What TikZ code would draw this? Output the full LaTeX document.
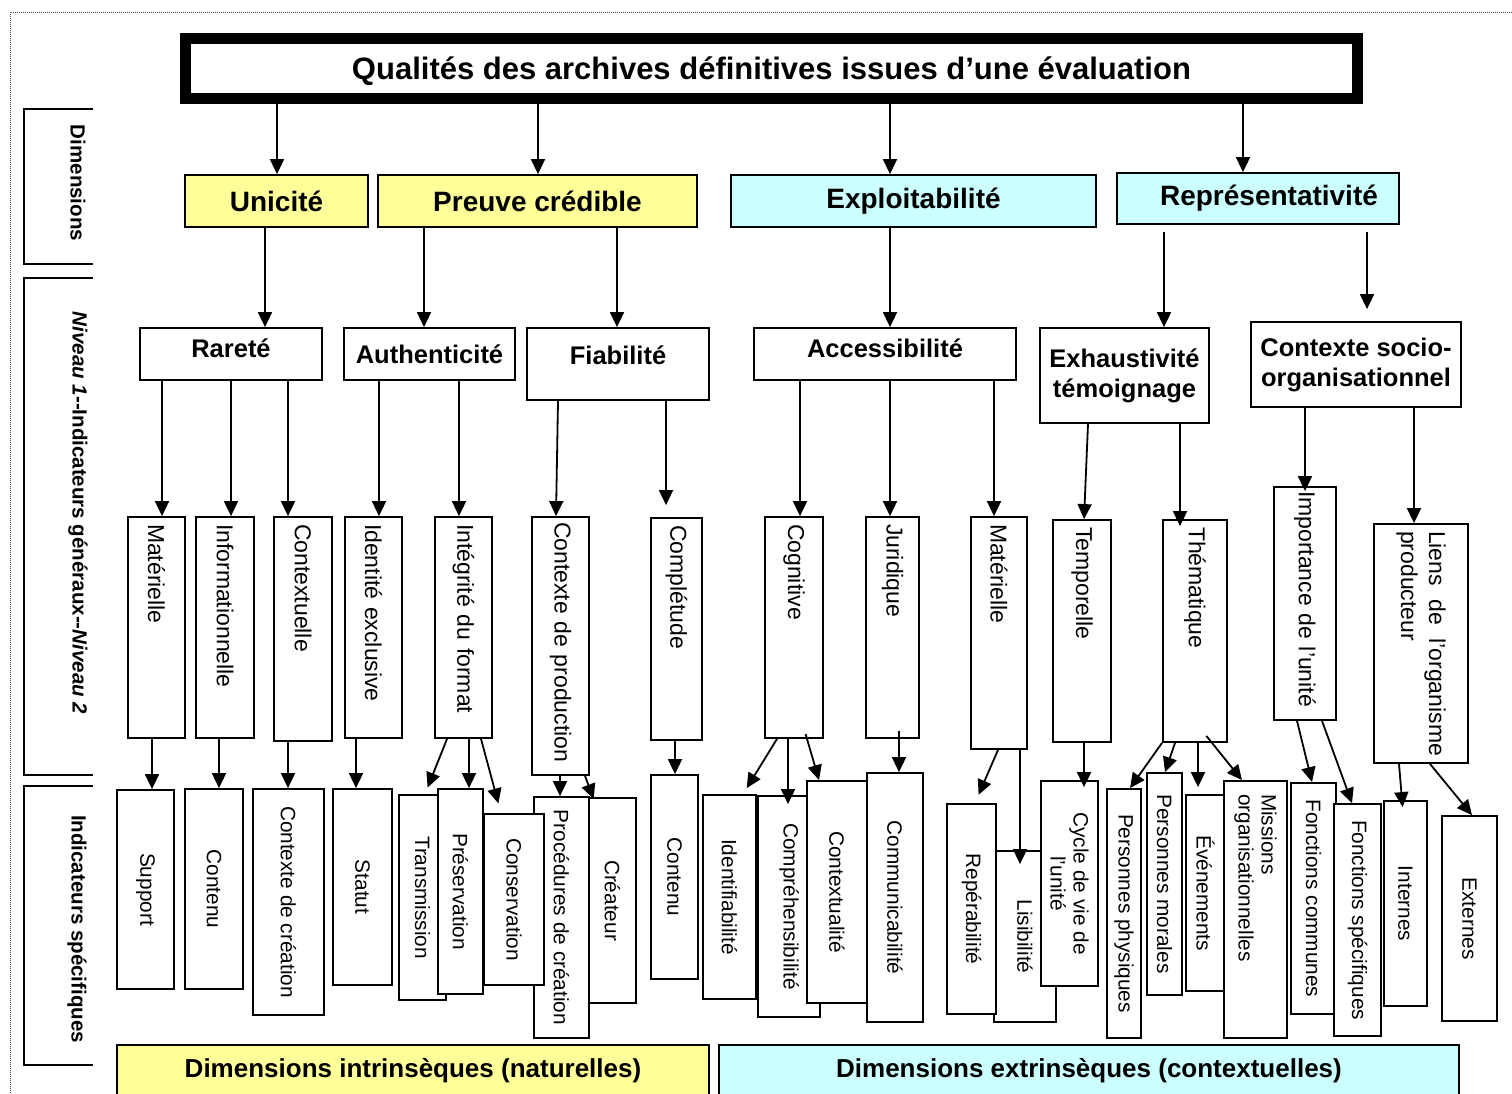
\documentclass[tikz,border=0pt]{standalone}
\usepackage{fontspec}
\setmainfont{Liberation Sans}
\usetikzlibrary{arrows.meta}

\definecolor{dimyellow}{HTML}{FFFF99}
\definecolor{dimcyan}{HTML}{CCFFFF}

\tikzset{
  box/.style={draw=black, fill=white, line width=1.8pt, inner sep=0pt},
  titlebox/.style={draw=black, line width=11pt, fill=white, minimum width=1172pt, minimum height=60pt,
    font=\fontsize{31}{36}\selectfont\bfseries},
  dimbox/.style={box, font=\fontsize{28}{32}\selectfont\bfseries},
  gen/.style={box, align=center, font=\fontsize{25.5}{30}\selectfont\bfseries},
  vtwo/.style={box, rotate=-90, align=left, inner xsep=7pt, font=\fontsize{23}{28}\selectfont},
  vthree/.style={box, rotate=-90, align=center, inner xsep=4pt, font=\fontsize{20.8}{23}\selectfont},
  side/.style={rotate=-90, inner sep=0pt, font=\fontsize{20.5}{24}\selectfont\bfseries},
  bracket/.style={line width=1.8pt},
  arr/.style={line width=1.8pt, -{Triangle[length=15pt,width=14pt]}},
  bar/.style={box, font=\fontsize{26}{30}\selectfont\bfseries, text height=19pt, text depth=9.5pt},
}

\begin{document}
\begin{tikzpicture}[x=1pt, y=-1pt]
\useasboundingbox (0,0) rectangle (1512,1093);

% dotted page frame
\draw[densely dotted, line width=1pt, black!70] (10,1093) -- (10,12) -- (1512,12);

% side brackets and their labels
\draw[bracket] (93,109) -- (24,109) -- (24,264) -- (93,264);
\node[side] (sdim) at (78,183) {Dimensions};
\draw[bracket] (93,278) -- (24,278) -- (24,775) -- (93,775);
\node[side] (sniv) at (78,513) {\textit{Niveau 1}-{}-Indicateurs généraux-{}-\textit{Niveau 2}};
\draw[bracket] (93,786) -- (24,786) -- (24,1065) -- (93,1065);
\node[side] (sind) at (77,929) {Indicateurs spécifiques};

% title
\node[titlebox, text height=22pt, text depth=0pt] (ttl) at (771.5,68.5) {Qualités des archives définitives issues d’une évaluation};

% dimensions
\node[dimbox, fill=dimyellow, minimum width=183pt, minimum height=52pt] (uni) at (276.5,201) {Unicité};
\node[dimbox, fill=dimyellow, minimum width=319pt, minimum height=52pt] (pre) at (537.5,201) {Preuve crédible};
\node[dimbox, fill=dimcyan, minimum width=365pt, minimum height=52pt] (expl) at (913.5,201) {Exploitabilité};
\node[dimbox, fill=dimcyan, minimum width=282pt, minimum height=51pt] (rep) at (1258,198.5) {\hspace*{22pt}Représentativité};

% general indicators, level 1
\node[gen, minimum width=182pt, minimum height=52pt, text depth=11pt] (rar) at (231,354) {Rareté};
\node[gen, minimum width=171pt, minimum height=52pt] (aut) at (429.5,354) {Authenticité};
\node[gen, minimum width=182pt, minimum height=72pt, text depth=17pt] (fia) at (618,364) {Fiabilité};
\node[gen, minimum width=262pt, minimum height=52pt, text depth=11pt] (acc) at (885,354) {Accessibilité};
\node[gen, minimum width=169pt, minimum height=95pt] (exh) at (1124.5,375.5) {Exhaustivité\\témoignage};
\node[gen, minimum width=210pt, minimum height=85pt] (ctx) at (1356,364.5) {Contexte socio-\\organisationnel};

% general indicators, level 2
\node[vtwo, minimum width=221pt, minimum height=57pt, text width=207pt] (mat1) at (156.5,627.5) {Matérielle};
\node[vtwo, minimum width=221pt, minimum height=58pt, text width=207pt] (inf) at (225,627.5) {Informationnelle};
\node[vtwo, minimum width=224pt, minimum height=58pt, text width=210pt] (ctxl) at (303,629) {Contextuelle};
\node[vtwo, minimum width=221pt, minimum height=57pt, text width=207pt] (ide) at (373.5,627.5) {Identité exclusive};
\node[vtwo, minimum width=221pt, minimum height=57pt, text width=207pt] (intg) at (463.5,627.5) {Intégrité du format};
\node[vtwo, minimum width=258pt, minimum height=57pt, inner xsep=5pt, text width=248pt] (cpr) at (560.5,646) {Contexte de production};
\node[vtwo, minimum width=222pt, minimum height=51pt, text width=208pt] (cmp) at (676.5,629) {Complétude};
\node[vtwo, minimum width=221pt, minimum height=58pt, text width=207pt] (cog) at (794,627.5) {Cognitive};
\node[vtwo, minimum width=221pt, minimum height=53pt, text width=207pt] (jur) at (892.5,627.5) {Juridique};
\node[vtwo, minimum width=232pt, minimum height=56pt, text width=218pt] (mat2) at (999,633) {Matérielle};
\node[vtwo, minimum width=222pt, minimum height=58pt, text width=208pt] (tmp) at (1082,631) {Temporelle};
\node[vtwo, minimum width=222pt, minimum height=64pt, text width=208pt] (thm) at (1195,631) {Thématique};
\node[vtwo, minimum width=233pt, minimum height=62pt, inner xsep=4pt, text width=225pt] (imp) at (1305,603.5) {Importance de l’unité};
\node[vtwo, minimum width=239pt, minimum height=94pt, text width=225pt] (lie) at (1421,643.5)
  {\makebox[225pt][s]{Liens\hfill de\hfill l’organisme}\\producteur};

% specific indicators
\node[vthree, minimum width=199pt, minimum height=57pt] (sup) at (145.5,889.5) {Support};
\node[vthree, minimum width=200pt, minimum height=58pt] (con1) at (214,889) {Contenu};
\node[vthree, minimum width=226pt, minimum height=71pt] (cdc) at (288.5,902) {Contexte de création};
\node[vthree, minimum width=196pt, minimum height=59pt] (sta) at (362.5,887) {Statut};
\node[vthree, minimum width=205pt, minimum height=47pt] (tra) at (422.5,897.5) {Transmission};
\node[vthree, minimum width=205pt, minimum height=45pt] (pres) at (460.5,891.5) {Préservation};
\node[vthree, minimum width=241pt, minimum height=55pt] (pro) at (561.5,917.5) {Procédures de création};
\node[vthree, minimum width=171pt, minimum height=60pt] (cons) at (514,899.5) {Conservation};
\node[vthree, minimum width=205pt, minimum height=47pt] (cre) at (612.5,900.5) {Créateur};
\node[vthree, minimum width=204pt, minimum height=47pt] (con2) at (674.5,877) {Contenu};
\node[vthree, minimum width=204pt, minimum height=53pt] (idf) at (729.5,897) {Identifiabilité};
\node[vthree, minimum width=221pt, minimum height=62pt] (cph) at (789,906.5) {Compréhensibilité};
\node[vthree, minimum width=222pt, minimum height=60pt] (ctxt) at (837,892) {Contextualité};
\node[vthree, minimum width=249pt, minimum height=56pt] (com) at (895,897.5) {Communicabilité};
\node[vthree, minimum width=171pt, minimum height=62pt] (lis) at (1025,936.5) {Lisibilité};
\node[vthree, minimum width=210pt, minimum height=49pt] (rep2) at (971.5,909) {Repérabilité};
\node[vthree, minimum width=205pt, minimum height=57pt] (cyc) at (1069.5,883.5) {Cycle de vie de\\l’unité};
\node[vthree, minimum width=249pt, minimum height=34pt] (pph) at (1124,913.5) {Personnes physiques};
\node[vthree, minimum width=222pt, minimum height=35pt] (pmo) at (1164.5,884) {Personnes morales};
\node[vthree, minimum width=196pt, minimum height=39pt] (eve) at (1205.5,893) {Événements};
\node[vthree, minimum width=257pt, minimum height=63pt, align=left, inner xsep=13pt, text width=231pt] (mis) at (1255.5,909.5) {Missions\\organisationnelles};
\node[vthree, minimum width=231pt, minimum height=45pt] (fco) at (1313.5,898.5) {Fonctions communes};
\node[vthree, minimum width=232pt, minimum height=47pt] (fsp) at (1357.5,920) {Fonctions spécifiques};
\node[vthree, minimum width=205pt, minimum height=43pt] (inte) at (1405.5,903.5) {Internes};
\node[vthree, minimum width=205pt, minimum height=55pt] (ext) at (1469.5,918.5) {Externes};

% bottom bars
\node[bar, fill=dimyellow, minimum width=592pt, minimum height=55pt] (intr) at (413,1072.5) {Dimensions intrinsèques (naturelles)};
\node[bar, fill=dimcyan, minimum width=740pt, minimum height=55pt] (extr) at (1089,1072.5) {Dimensions extrinsèques (contextuelles)};

% title to dimensions
\draw[arr] (277,0 |- ttl.south) -- (277,0 |- uni.north);
\draw[arr] (538,0 |- ttl.south) -- (538,0 |- pre.north);
\draw[arr] (890,0 |- ttl.south) -- (890,0 |- expl.north);
\draw[arr] (1243,0 |- ttl.south) -- (1243,0 |- rep.north);

% dimensions to level 1
\draw[arr] (265,0 |- uni.south) -- (265,0 |- rar.north);
\draw[arr] (424,0 |- pre.south) -- (424,0 |- aut.north);
\draw[arr] (617,0 |- pre.south) -- (617,0 |- fia.north);
\draw[arr] (890,0 |- expl.south) -- (890,0 |- acc.north);
\draw[arr, shorten <=7pt] (1164,0 |- rep.south) -- (1164,0 |- exh.north);
\draw[arr, shorten <=7pt, shorten >=12pt] (1367,0 |- rep.south) -- (1367,0 |- ctx.north);

% level 1 to level 2
\draw[arr] (162,0 |- rar.south) -- (162,0 |- mat1.west);
\draw[arr] (231,0 |- rar.south) -- (231,0 |- inf.west);
\draw[arr] (288,0 |- rar.south) -- (288,0 |- ctxl.west);
\draw[arr] (379,0 |- aut.south) -- (379,0 |- ide.west);
\draw[arr] (459,0 |- aut.south) -- (459,0 |- intg.west);
\draw[arr] (558,0 |- fia.south) -- (556,0 |- cpr.west);
\draw[arr, shorten >=12pt] (666,0 |- fia.south) -- (666,0 |- cmp.west);
\draw[arr] (800,0 |- acc.south) -- (800,0 |- cog.west);
\draw[arr] (890,0 |- acc.south) -- (890,0 |- jur.west);
\draw[arr] (994,0 |- acc.south) -- (994,0 |- mat2.west);
\draw[arr] (1088,0 |- exh.south) -- (1084,0 |- tmp.west);
\draw[arr, shorten >=-7pt] (1180,0 |- exh.south) -- (1180,0 |- thm.west);
\draw[arr, shorten >=-5pt] (1305,0 |- ctx.south) -- (1305,0 |- imp.west);
\draw[arr] (1414,0 |- ctx.south) -- (1414,0 |- lie.west);

% level 2 to specific indicators
\draw[arr] (152,0 |- mat1.east) -- (152,0 |- sup.west);
\draw[arr] (219,0 |- inf.east) -- (219,0 |- con1.west);
\draw[arr] (288,0 |- ctxl.east) -- (288,0 |- cdc.west);
\draw[arr] (356,0 |- ide.east) -- (356,0 |- sta.west);
\draw[arr, shorten >=7pt] (447,0 |- intg.east) -- (425,0 |- tra.west);
\draw[arr] (469,0 |- intg.east) -- (469,0 |- pres.west);
\draw[arr, shorten >=10pt] (481,0 |- intg.east) -- (501,0 |- cons.west);
\draw[arr] (560,0 |- cpr.east) -- (560,0 |- pro.west);
\draw[arr, shorten >=-2pt] (585,0 |- cpr.east) -- (593,0 |- cre.west);
\draw[arr] (675,0 |- cmp.east) -- (675,0 |- con2.west);
\draw[arr, shorten >=7pt] (777,0 |- cog.east) -- (743,0 |- idf.west);
\draw[arr, shorten >=-9pt] (788,0 |- cog.east) -- (788,0 |- cph.west);
\draw[arr, shorten <=-5pt] (807,0 |- cog.east) -- (819,0 |- ctxt.west);
\draw[arr, shorten <=-8pt] (899,0 |- jur.east) -- (899,0 |- com.west);
\draw[arr, shorten >=9pt] (998,0 |- mat2.east) -- (975,0 |- rep2.west);
\draw[arr, shorten >=-14pt] (1020,0 |- mat2.east) -- (1020,0 |- lis.west);
\draw[arr, shorten >=-7pt] (1084,0 |- tmp.east) -- (1084,0 |- cyc.west);
\draw[arr] (1162,0 |- thm.east) -- (1130,0 |- pph.west);
\draw[arr] (1175,0 |- thm.east) -- (1165,0 |- pmo.west);
\draw[arr, shorten >=7pt] (1198,0 |- thm.east) -- (1198,0 |- eve.west);
\draw[arr, shorten <=-9pt] (1212,0 |- thm.east) -- (1242,0 |- mis.west);
\draw[arr] (1297,0 |- imp.east) -- (1312,0 |- fco.west);
\draw[arr] (1322,0 |- imp.east) -- (1352,0 |- fsp.west);
\draw[arr, shorten >=-7pt] (1399,0 |- lie.east) -- (1402,0 |- inte.west);
\draw[arr] (1430,0 |- lie.east) -- (1472,0 |- ext.west);

\end{tikzpicture}
\end{document}
